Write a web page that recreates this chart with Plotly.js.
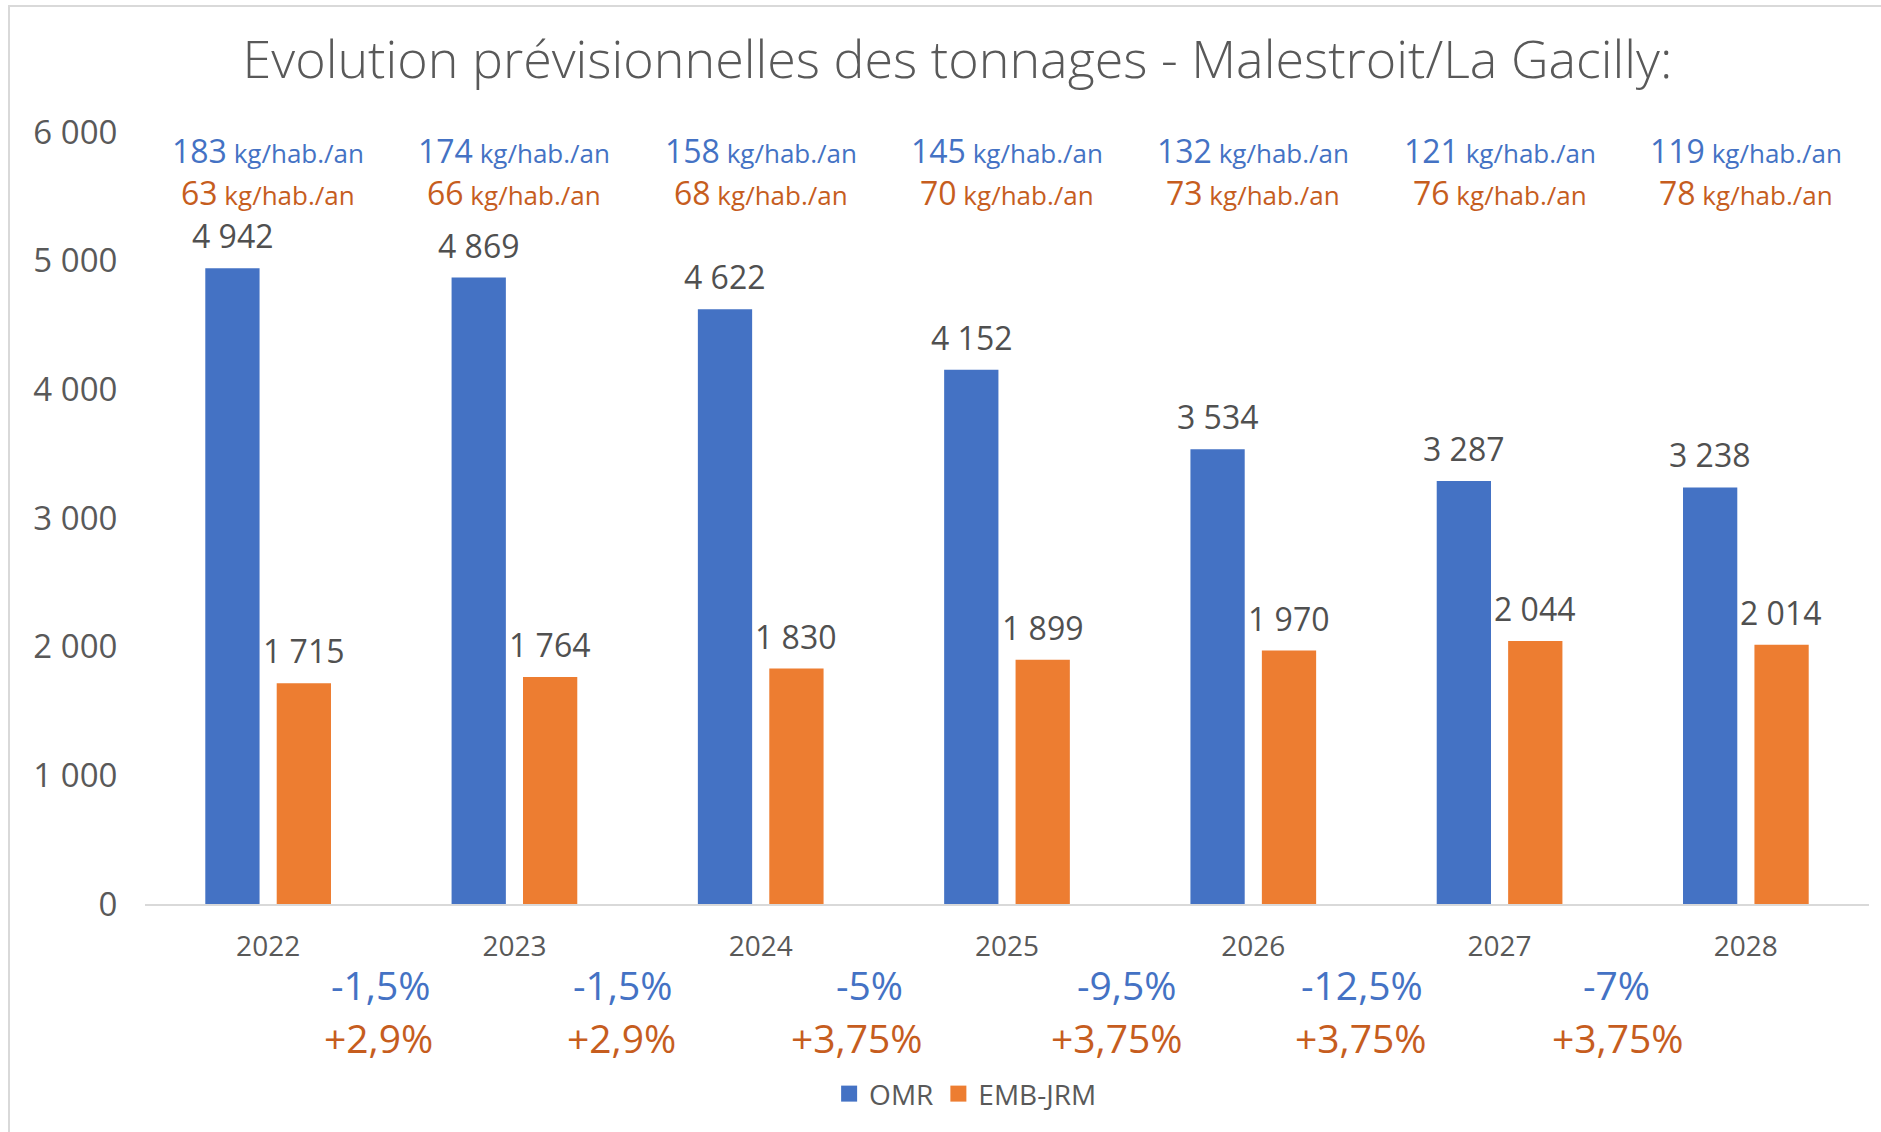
<!DOCTYPE html>
<html>
<head>
<meta charset="utf-8">
<script src="https://cdn.plot.ly/plotly-3.0.1.min.js"></script>
<style>
  html, body { margin: 0; padding: 0; background: #ffffff; }
  #wrap { position: relative; width: 1881px; height: 1132px; overflow: hidden; }
  #chart { position: absolute; left: 0; top: 0; width: 1881px; height: 1132px; }
  #frame { position: absolute; left: 8px; top: 5px; width: 1900px; height: 1200px;
           border-left: 2px solid #d9d9d9; border-top: 2px solid #d9d9d9; pointer-events: none; }
</style>
</head>
<body>
<div id="wrap">
  <div id="chart"></div>
  <div id="frame"></div>
</div>
<script>
// ---- Data ----
const years = ['2022', '2023', '2024', '2025', '2026', '2027', '2028'];
const omr = [4942, 4869, 4622, 4152, 3534, 3287, 3238];
const embJrm = [1715, 1764, 1830, 1899, 1970, 2044, 2014];
const omrPerHab = [183, 174, 158, 145, 132, 121, 119];
const embPerHab = [63, 66, 68, 70, 73, 76, 78];
const omrChange = ['-1,5%', '-1,5%', '-5%', '-9,5%', '-12,5%', '-7%'];
const embChange = ['+2,9%', '+2,9%', '+3,75%', '+3,75%', '+3,75%', '+3,75%'];
const unitLabel = 'kg/hab./an';
const seriesNames = ['OMR', 'EMB-JRM'];

// ---- Positions of the change labels (category index units) ----
const omrChangeX = [0.456, 1.44, 2.44, 3.486, 4.443, 5.475];
const embChangeX = [0.449, 1.433, 2.39, 3.447, 4.436, 5.48];

const BLUE = '#4472C4';
const ORANGE = '#ED7D31';
const BLUE_TXT = '#4472C4';
const ORANGE_TXT = '#C65D1E';
const GRAY = '#595959';
const LABEL_GRAY = '#505050';
const FONT = 'Open Sans, Noto Sans, sans-serif';

const traces = [
  {
    type: 'bar', name: seriesNames[0], x: years, y: omr,
    marker: { color: BLUE }, showlegend: false, hoverinfo: 'x+y'
  },
  {
    type: 'bar', name: seriesNames[1], x: years, y: embJrm,
    marker: { color: ORANGE }, showlegend: false, hoverinfo: 'x+y'
  },
  // legend-only entries (larger square swatches)
  {
    type: 'scatter', mode: 'markers', name: seriesNames[0], x: [years[0]], y: [null],
    marker: { symbol: 'square', size: 16, color: BLUE }, hoverinfo: 'skip'
  },
  {
    type: 'scatter', mode: 'markers', name: seriesNames[1], x: [years[0]], y: [null],
    marker: { symbol: 'square', size: 16, color: ORANGE }, hoverinfo: 'skip'
  }
];

const fmt = v => String(v).replace(/\B(?=(\d{3})+(?!\d))/g, ' ');

const annotations = [];
years.forEach((yr, i) => {
  // value labels above bars
  annotations.push({
    xref: 'x', yref: 'y', x: i, y: omr[i], xshift: -35.5, yshift: 9,
    xanchor: 'center', yanchor: 'bottom', showarrow: false,
    text: fmt(omr[i]), font: { family: FONT, size: 32, color: LABEL_GRAY }
  });
  annotations.push({
    xref: 'x', yref: 'y', x: i, y: embJrm[i], xshift: 35.5, yshift: 9,
    xanchor: 'center', yanchor: 'bottom', showarrow: false,
    text: fmt(embJrm[i]), font: { family: FONT, size: 32, color: LABEL_GRAY }
  });
  // per-inhabitant ratios
  annotations.push({
    xref: 'x', yref: 'paper', x: i, y: 0.9754, xanchor: 'center', yanchor: 'middle',
    showarrow: false,
    text: '<span style="font-size:32px">' + omrPerHab[i] + '</span> ' + unitLabel,
    font: { family: FONT, size: 26, color: BLUE_TXT }
  });
  annotations.push({
    xref: 'x', yref: 'paper', x: i, y: 0.9215, xanchor: 'center', yanchor: 'middle',
    showarrow: false,
    text: '<span style="font-size:32px">' + embPerHab[i] + '</span> ' + unitLabel,
    font: { family: FONT, size: 26, color: ORANGE_TXT }
  });
});
omrChange.forEach((t, i) => {
  annotations.push({
    xref: 'x', yref: 'paper', x: omrChangeX[i], y: -0.1049, xanchor: 'center', yanchor: 'middle',
    showarrow: false, text: t,
    font: { family: FONT, size: 39, color: BLUE_TXT }
  });
});
embChange.forEach((t, i) => {
  annotations.push({
    xref: 'x', yref: 'paper', x: embChangeX[i], y: -0.1723, xanchor: 'center', yanchor: 'middle',
    showarrow: false, text: t,
    font: { family: FONT, size: 39, color: ORANGE_TXT }
  });
});

const layout = {
  width: 1881, height: 1132,
  margin: { l: 145, r: 12, t: 132, b: 228 },
  paper_bgcolor: 'rgba(0,0,0,0)', plot_bgcolor: 'rgba(0,0,0,0)',
  separators: ', ',
  font: { family: FONT, color: GRAY },
  title: {
    text: 'Evolution prévisionnelles des tonnages - Malestroit/La Gacilly:',
    font: { family: FONT, size: 52, color: GRAY, weight: 300 },
    x: 0.509, xref: 'container', xanchor: 'center',
    y: 0.947, yref: 'container', yanchor: 'middle'
  },
  barmode: 'group', bargap: 0.42, bargroupgap: 0.24,
  xaxis: {
    type: 'category', range: [-0.5, 6.5],
    showgrid: false, zeroline: false,
    showline: true, linecolor: '#d9d9d9', linewidth: 2,
    ticks: 'outside', ticklen: 16, tickcolor: 'rgba(0,0,0,0)',
    tickfont: { family: FONT, size: 28, color: GRAY }
  },
  yaxis: {
    range: [0, 6000], dtick: 1000, tickformat: ',.0f',
    showgrid: false, zeroline: false, showline: false,
    ticks: 'outside', ticklen: 20, tickcolor: 'rgba(0,0,0,0)',
    tickfont: { family: FONT, size: 33, color: GRAY }
  },
  showlegend: true,
  legend: {
    orientation: 'h', x: 0.476, xanchor: 'center', y: -0.246, yanchor: 'middle',
    font: { family: FONT, size: 28, color: GRAY },
    itemwidth: 30, itemsizing: 'trace'
  },
  annotations: annotations
};

Plotly.newPlot('chart', traces, layout, { displayModeBar: false, responsive: false });
</script>
</body>
</html>
